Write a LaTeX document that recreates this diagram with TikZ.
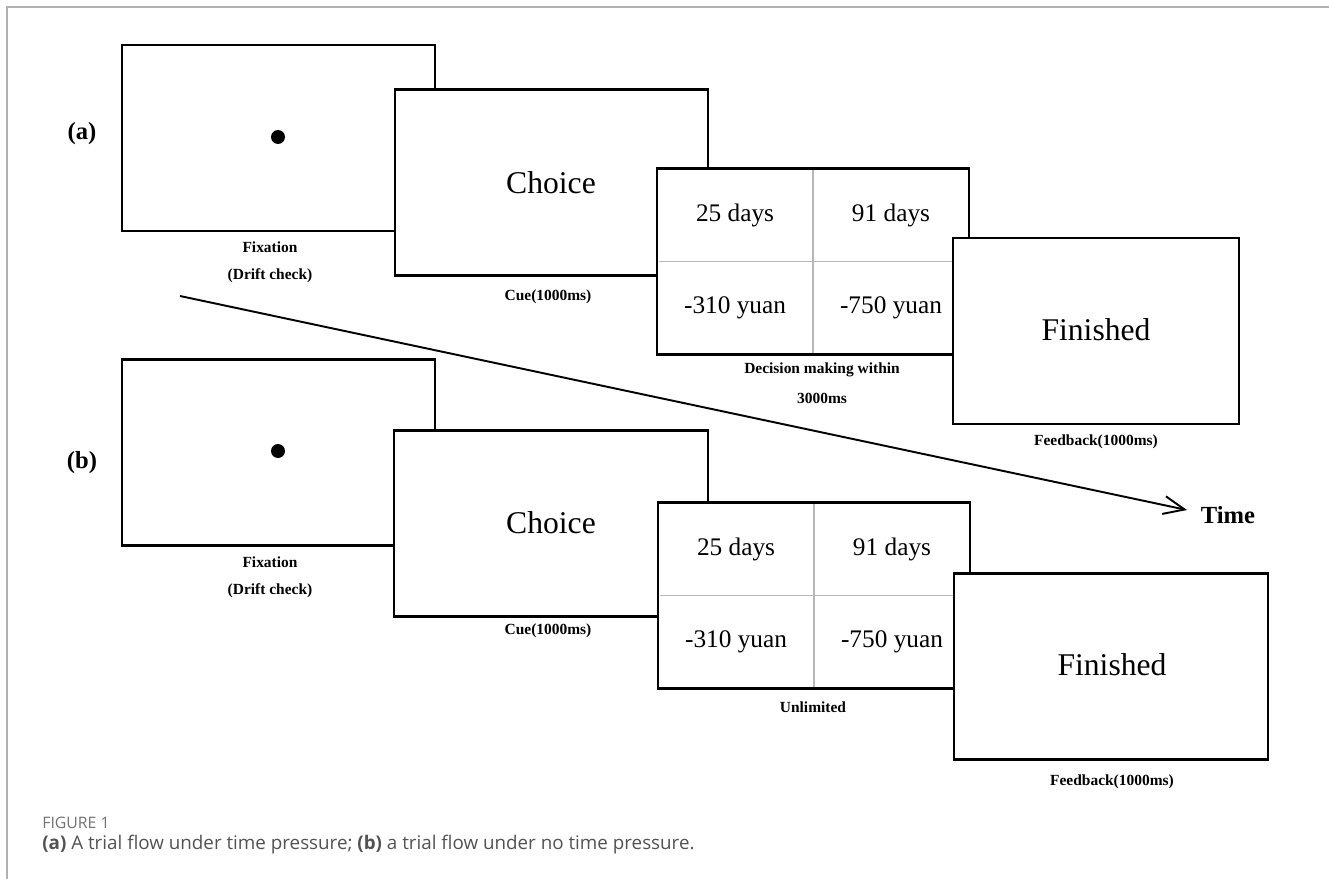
\documentclass[tikz,border=0pt]{standalone}
\usepackage{fontspec}
\setmainfont{Liberation Serif}
\newfontfamily\capfont{Open Sans}
\usepackage{tikz}
\usetikzlibrary{arrows.meta,calc}

\begin{document}
\begin{tikzpicture}[x=0.02cm, y=-0.02cm,
  screen/.style={draw, rectangle, line width=1.6pt, fill=white, inner sep=0pt, outer sep=0pt, minimum height=3.72cm},
  word/.style={font=\fontsize{18}{21}\selectfont},
  cell/.style={font=\fontsize{14.4}{17}\selectfont},
  tag/.style={font=\fontsize{8.8}{10}\selectfont\bfseries},
  grid/.style={draw=black!28, line width=0.6pt}]
\useasboundingbox (0,0) rectangle (1329,879);
\draw[black!30, line width=1.1pt] (7,879) -- (7,7) -- (1329,7);

% (a) time pressure
\node[font=\fontsize{14}{16}\selectfont\bfseries] (LA) at (82,134) {(a)};
\node[screen, minimum width=6.26cm] (FA) at (278.5,138) {};
\fill (278,137) circle (0.14cm);
\node[tag] (FA_t1) at (270,247) {Fixation};
\node[tag] (FA_t2) at (270,276) {(Drift check)};
\node[screen, minimum width=6.26cm] (CA) at (551.5,182.5) {};
\node[word] (CA_w) at (551,183) {Choice};
\node[tag] (CA_t) at (548,297) {Cue(1000ms)};
\node[screen, minimum width=6.24cm] (DA) at (813,261.5) {};
\draw[grid, shorten <=1pt, shorten >=1pt] (DA.north) -- (DA.south);
\draw[grid, shorten <=1pt, shorten >=1pt] (DA.west) -- (DA.east);
\node[cell] (DA_1) at ($(DA.north west)!.5!(DA.center)$) {25 days};
\node[cell] (DA_2) at ($(DA.north east)!.5!(DA.center)$) {91 days};
\node[cell] (DA_3) at ($(DA.south west)!.5!(DA.center)$) {-310 yuan};
\node[cell] (DA_4) at ($(DA.south east)!.5!(DA.center)$) {-750 yuan};
\node[tag] (DA_t1) at (822,370) {Decision making within};
\node[tag] (DA_t2) at (822,398) {3000ms};
\node[screen, minimum width=5.72cm] (BA) at (1096,331) {};
\node[word] (BA_w) at (1096,330) {Finished};
\node[tag] (BA_t) at (1096,442) {Feedback(1000ms)};

% (b) no time pressure
\node[font=\fontsize{14}{16}\selectfont\bfseries] (LB) at (82,463) {(b)};
\node[screen, minimum width=6.26cm] (FB) at (278.5,452.5) {};
\fill (278,451) circle (0.14cm);
\node[tag] (FB_t1) at (270,562) {Fixation};
\node[tag] (FB_t2) at (270,591) {(Drift check)};
\node[screen, minimum width=6.28cm] (CB) at (551,523.5) {};
\node[word] (CB_w) at (551,523) {Choice};
\node[tag] (CB_t) at (548,631) {Cue(1000ms)};
\node[screen, minimum width=6.24cm] (DB) at (814,595.5) {};
\draw[grid, shorten <=1pt, shorten >=1pt] (DB.north) -- (DB.south);
\draw[grid, shorten <=1pt, shorten >=1pt] (DB.west) -- (DB.east);
\node[cell] (DB_1) at ($(DB.north west)!.5!(DB.center)$) {25 days};
\node[cell] (DB_2) at ($(DB.north east)!.5!(DB.center)$) {91 days};
\node[cell] (DB_3) at ($(DB.south west)!.5!(DB.center)$) {-310 yuan};
\node[cell] (DB_4) at ($(DB.south east)!.5!(DB.center)$) {-750 yuan};
\node[tag] (DB_t) at (813,707) {Unlimited};
\node[screen, minimum width=6.28cm] (BB) at (1111,666.5) {};
\node[word] (BB_w) at (1112,665) {Finished};
\node[tag] (BB_t) at (1112,782) {Feedback(1000ms)};

% time axis
\coordinate (T0) at (180,296);
\coordinate (T1) at (1187,510);
\node[font=\fontsize{14}{16}\selectfont\bfseries] (Time) at (1228,515) {Time};
\draw[line width=1.1pt, -{Straight Barb[length=0.42cm, width=0.36cm]}] (T0) -- (T1);

% caption
\node[anchor=base west, inner sep=0pt, font=\capfont\fontsize{9}{10}\selectfont, text=black!55] (Fig) at (42,828) {FIGURE 1};
\node[anchor=base west, inner sep=0pt, font=\capfont\fontsize{10.7}{12}\selectfont, text=black!68] (Cap) at (42,849) {\textbf{(a)} A trial flow under time pressure; \textbf{(b)} a trial flow under no time pressure.};
\end{tikzpicture}
\end{document}
